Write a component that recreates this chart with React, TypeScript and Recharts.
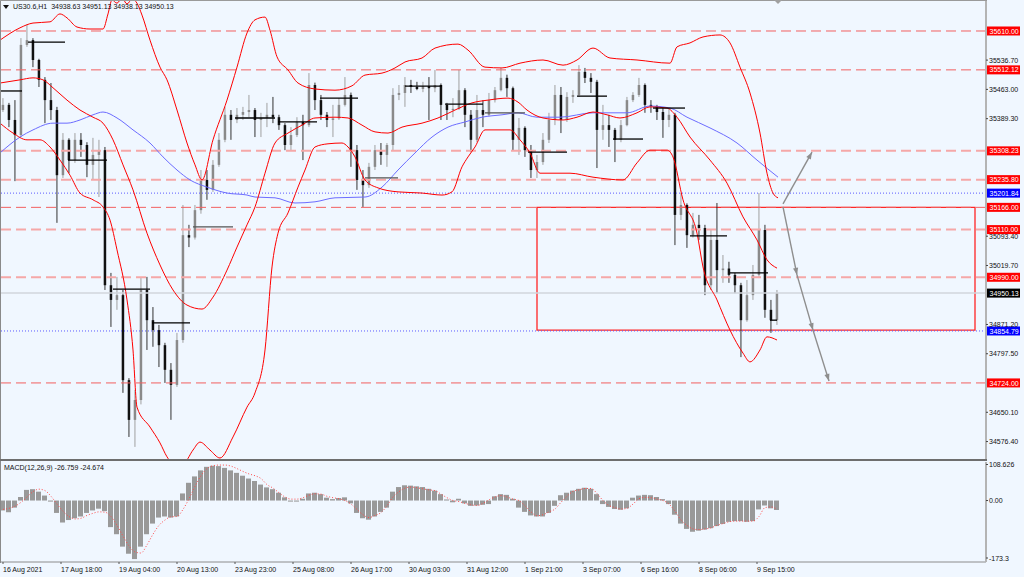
import React from 'react'
import { ComposedChart, Bar, Line, XAxis, YAxis, ReferenceLine, ReferenceArea } from 'recharts'

const FONT = '"Liberation Sans", Arial, sans-serif'
const BG = '#f0f7ff'

// US30.6 H1 - one candle per 3 hourly bars, t = hourly bar number
const firstOpen = 35411
const highs = [
  35441, 35429, 35436, 35592, 35627, 35592, 35540, 35494, 35479, 35419,
  35353, 35340, 35353, 35353, 35330, 35341, 35336, 35318, 35001, 34991,
  34958, 34736, 34706, 34988, 34991, 34915, 34870, 34825, 34774, 34850,
  35172, 35122, 35172, 35260, 35260, 35285, 35353, 35419, 35411, 35416,
  35419, 35449, 35416, 35404, 35429, 35444, 35399, 35378, 35368, 35393,
  35399, 35504, 35480, 35449, 35406, 35424, 35441, 35494, 35455, 35323,
  35260, 35278, 35323, 35328, 35328, 35466, 35474, 35494, 35487, 35482,
  35482, 35494, 35512, 35478, 35429, 35441, 35512, 35466, 35411, 35449,
  35436, 35454, 35469, 35517, 35500, 35470, 35391, 35370, 35323, 35298,
  35353, 35404, 35474, 35469, 35456, 35461, 35524, 35517, 35504, 35487,
  35424, 35399, 35366, 35386, 35444, 35456, 35492, 35478, 35436, 35424,
  35416, 35416, 35404, 35202, 35176, 35152, 35147, 35122, 35109, 35177,
  35046, 35029, 35001, 34976, 34983, 35021, 35202, 35122, 34933, 34958,
]
const lows = [
  35406, 35368, 35232, 35343, 35570, 35519, 35469, 35378, 35386, 35127,
  35240, 35252, 35278, 35293, 35242, 35235, 35192, 34958, 34865, 34908,
  34699, 34588, 34563, 34670, 34807, 34815, 34764, 34724, 34631, 34714,
  34825, 35066, 35085, 35150, 35185, 35205, 35268, 35330, 35336, 35378,
  35386, 35393, 35343, 35343, 35368, 35378, 35361, 35310, 35310, 35343,
  35285, 35368, 35411, 35386, 35368, 35343, 35386, 35420, 35268, 35210,
  35167, 35215, 35260, 35273, 35268, 35310, 35436, 35419, 35454, 35461,
  35456, 35386, 35456, 35386, 35386, 35393, 35411, 35368, 35305, 35330,
  35368, 35395, 35430, 35458, 35444, 35310, 35298, 35293, 35240, 35240,
  35273, 35328, 35373, 35353, 35381, 35429, 35444, 35479, 35454, 35265,
  35336, 35318, 35280, 35330, 35370, 35431, 35444, 35404, 35404, 35386,
  35341, 35368, 35071, 35134, 35064, 35090, 35084, 34945, 34958, 34950,
  34976, 34976, 34950, 34789, 34878, 34933, 34988, 34888, 34850, 34870,
]
const closes = [
  35424, 35386, 35348, 35575, 35587, 35537, 35487, 35436, 35411, 35247,
  35336, 35285, 35336, 35323, 35273, 35298, 35310, 34970, 34933, 34945,
  34731, 34631, 34681, 34958, 34882, 34857, 34819, 34757, 34719, 34832,
  35096, 35090, 35159, 35235, 35210, 35273, 35336, 35399, 35386, 35399,
  35406, 35411, 35386, 35391, 35399, 35393, 35373, 35323, 35348, 35381,
  35373, 35474, 35436, 35399, 35386, 35390, 35424, 35449, 35310, 35235,
  35222, 35268, 35310, 35298, 35323, 35449, 35454, 35474, 35469, 35464,
  35471, 35466, 35474, 35424, 35411, 35414, 35461, 35399, 35336, 35411,
  35399, 35436, 35461, 35492, 35466, 35336, 35366, 35310, 35260, 35280,
  35336, 35386, 35449, 35386, 35444, 35449, 35507, 35492, 35482, 35361,
  35373, 35361, 35336, 35373, 35436, 35449, 35474, 35424, 35421, 35406,
  35386, 35399, 35147, 35172, 35096, 35122, 35114, 34970, 35084, 35008,
  35012, 34996, 34970, 34882, 34945, 34996, 35109, 34908, 34882, 34950.13,
]

const macdHist = [
  -28, -33, -20, 10, 30, 32, 25, 14, -3, -35,
  -62, -55, -50, -45, -35, -28, -23, -30, -75, -95,
  -130, -150, -165, -130, -95, -65, -48, -45, -48, -45,
  20, 50, 68, 85, 95, 98, 97, 92, 85, 78,
  70, 62, 55, 45, 37, 32, 22, 9, -3, -3,
  5, 20, 22, 18, 8, 4, 7, 9, -8, -35,
  -50, -54, -45, -32, -20, 25, 38, 43, 42, 40,
  38, 33, 28, 18, 3, -5, 5, -8, -15, -14,
  -12, -10, 12, 18, 16, 5, -20, -32, -42, -45,
  -45, -35, -15, 15, 22, 28, 33, 36, 33, 18,
  -10, -18, -24, -26, -22, 8, 14, 16, 15, 10,
  4, -10, -40, -65, -80, -88, -85, -82, -78, -72,
  -66, -60, -58, -58, -60, -58, -25, -14, -22, -26.759,
]
const macdSignal = [
  -25, -22, -16, -5, 10, 25, 32, 28, 12, -10,
  -30, -45, -52, -50, -42, -36, -32, -33, -45, -70,
  -100, -128, -145, -148, -125, -95, -70, -55, -46, -45,
  -25, 5, 40, 70, 90, 98, 100, 100, 97, 90,
  82, 75, 70, 62, 45, 35, 22, 10, 4, 4,
  8, 15, 19, 18, 12, 8, 5, 0, -10, -25,
  -40, -48, -42, -34, -15, 10, 25, 35, 38, 36,
  33, 30, 28, 18, 8, 0, -3, -8, -12, -14,
  -8, 2, 10, 14, 10, 4, 0, -15, -32, -43,
  -40, -32, -24, -5, 12, 26, 30, 34, 34, 20,
  0, -14, -20, -24, -22, -10, 5, 9, 8, 4,
  0, -10, -30, -55, -70, -80, -82, -80, -77, -70,
  -65, -60, -58, -58, -58, -58, -45, -20, -18, -24.674,
]

const timeTicks = [0, 29, 58, 87, 116, 145, 174, 203, 232, 261, 290, 319, 348, 377]
const timeLabels = [
  '16 Aug 2021', '17 Aug 18:00', '19 Aug 04:00', '20 Aug 13:00', '23 Aug 23:00',
  '25 Aug 08:00', '26 Aug 17:00', '30 Aug 03:00', '31 Aug 12:00', '1 Sep 21:00',
  '3 Sep 07:00', '6 Sep 16:00', '8 Sep 06:00', '9 Sep 15:00',
]
const priceTicks = [35536.7, 35463.0, 35389.3, 35093.4, 35019.7, 34871.2, 34797.5, 34650.1, 34576.4]
const macdTicks = [108.626, 0, -173.3]

// bollinger bands (20) and MA, [t, price]
const bandUpper: [number, number][] = [
  [-1.5, 35587], [8.5, 35618], [15, 35630], [23.5, 35633], [28.5, 35653], [32, 35643],
  [37, 35620], [43.5, 35615], [50, 35615], [52.5, 35653], [54.5, 35688], [57, 35680],
  [59.5, 35693], [62, 35678], [64.5, 35690], [67, 35680], [69.5, 35650], [73.5, 35587],
  [78.5, 35519], [82, 35487], [87, 35411], [92, 35328], [96, 35273], [99.5, 35235],
  [105, 35336], [112, 35436], [117, 35519], [122, 35605], [126, 35638], [131, 35645],
  [133.5, 35612], [137, 35545], [142.5, 35512], [147.5, 35479], [156, 35464], [166, 35461],
  [174.5, 35472], [181, 35499], [189.5, 35504], [196, 35517], [201, 35532], [209.5, 35542],
  [216, 35567], [227.5, 35577], [232.5, 35562], [241, 35519], [249.5, 35517], [258.5, 35529],
  [270, 35537], [280, 35524], [287, 35537], [295, 35567], [303.5, 35542], [317, 35537],
  [333.5, 35529], [337, 35570], [343.5, 35580], [350, 35595], [358.5, 35600], [363.5, 35580],
  [368.5, 35519], [373.5, 35454], [378.5, 35353], [382, 35252], [385, 35202], [387.5, 35190],
]
const bandMiddle: [number, number][] = [
  [-1.5, 35479], [8.5, 35487], [15, 35492], [20, 35487], [25, 35467], [32, 35436],
  [38.5, 35411], [45, 35393], [50, 35378], [55, 35336], [60, 35273], [65, 35210],
  [72, 35101], [78.5, 35021], [85, 34958], [92, 34920], [99.5, 34910], [105, 34940],
  [112, 35008], [117, 35066], [122, 35122], [126, 35167], [131, 35252], [136, 35328],
  [142.5, 35353], [149.5, 35373], [156, 35391], [166, 35393], [172.5, 35391], [179.5, 35373],
  [186, 35356], [192.5, 35353], [199.5, 35368], [209.5, 35378], [217.5, 35391], [226, 35411],
  [234.5, 35429], [242.5, 35436], [252.5, 35441], [257.5, 35431], [262, 35411], [270, 35391],
  [280, 35386], [287, 35393], [295, 35406], [302, 35399], [308.5, 35391], [317, 35404],
  [323.5, 35419], [332, 35416], [337, 35393], [343.5, 35343], [353.5, 35285], [362, 35227],
  [370, 35142], [377, 35084], [382, 35034], [387, 35013],
]
const bandLower: [number, number][] = [
  [-1.5, 35378], [5, 35353], [12, 35336], [18.5, 35336], [23.5, 35318], [28.5, 35285],
  [33.5, 35247], [38.5, 35202], [45, 35185], [50, 35167], [53.5, 35134], [57, 35059],
  [62, 34933], [65, 34807], [67, 34663], [73.5, 34613], [78.5, 34573], [82, 34538],
  [86, 34517], [91, 34525], [95, 34555], [98.5, 34575], [103.5, 34555], [108.5, 34535],
  [115, 34588], [122, 34663], [126, 34699], [131, 34807], [134.5, 35016], [137.5, 35101],
  [142.5, 35152], [147.5, 35217], [151, 35260], [156, 35318], [162.5, 35326], [169.5, 35328],
  [172.5, 35318], [176, 35293], [181, 35235], [187.5, 35215], [197.5, 35205], [209.5, 35202],
  [219.5, 35197], [224.5, 35205], [229.5, 35268], [232.5, 35293], [236, 35318], [241, 35361],
  [247.5, 35361], [253.5, 35361], [258.5, 35336], [263.5, 35303], [268.5, 35252], [283.5, 35252],
  [295, 35242], [310, 35235], [317, 35278], [323.5, 35310], [332, 35310], [335, 35293],
  [340, 35185], [347, 35101], [350, 35016], [357, 34933], [363.5, 34857], [370, 34799],
  [373.5, 34777], [378.5, 34807], [382, 34840], [387, 34832],
]
const maLine: [number, number][] = [
  [-1.5, 35303], [8.5, 35343], [15, 35361], [25, 35378], [32, 35378], [38.5, 35386],
  [45, 35399], [50, 35406], [57, 35391], [65, 35361], [73.5, 35328], [80, 35293],
  [87, 35260], [93.5, 35235], [102, 35217], [112, 35202], [122, 35197], [126, 35192],
  [136, 35190], [146, 35177], [156, 35180], [166, 35190], [181, 35192], [189.5, 35217],
  [197.5, 35260], [206, 35303], [214.5, 35343], [222.5, 35368], [231, 35381], [239.5, 35393],
  [249.5, 35399], [257.5, 35404], [267, 35393], [278.5, 35393], [295, 35404], [312, 35404],
  [323.5, 35421], [333.5, 35416], [342, 35393], [353.5, 35366], [367, 35328], [377, 35285],
  [387.5, 35242],
]

// horizontal levels
const redLevels = [35610, 35512.12, 35166, 34724]
const pinkLevels = [35308.23, 35235.8, 35110, 34990]
const blueLevels = [35201.84, 34854.79]
const lastPrice = 34950.13

// daily level segments [t1, t2, price, grey]
const dailyLevels: [number, number, number, boolean][] = [
  [-1.5, 9.5, 35459, false], [12.5, 31, 35582, false], [32.5, 52, 35285, false],
  [55, 73.5, 34960, false], [74.5, 93.5, 34875, false], [95, 115, 35117, true],
  [116, 136, 35391, false], [137.5, 157, 35381, false], [158.5, 177.5, 35441, false],
  [181, 197.5, 35240, true], [201, 219.5, 35471, false], [221, 240, 35426, false],
  [241, 261, 35404, true], [262.5, 282, 35305, false], [287, 302, 35446, false],
  [305, 320, 35338, false], [325, 341, 35416, false], [343.5, 362, 35094, false],
  [363.5, 382.5, 35001, false], [383.5, 387, 34882, false],
]

// projection arrows [t1, p1, t2, p2]
const arrows: [number, number, number, number][] = [
  [390, 35175, 404.5, 35305],
  [390, 35167, 397, 34996],
  [397, 34996, 405, 34857],
  [405, 34857, 413, 34729],
]
const zone = { t1: 267, t2: 486, top: 35166, bottom: 34857 }

const rows = closes.map((c, i) => ({
  t: i * 3,
  o: i === 0 ? firstOpen : closes[i - 1],
  h: highs[i],
  l: lows[i],
  c,
  macd: macdHist[i],
  signal: macdSignal[i],
}))

const pts = (arr: [number, number][]) => arr.map(([t, v]) => ({ t, v }))

function Candle(props: any) {
  const { x, y, width, height, payload } = props
  if (!payload || !isFinite(y) || !isFinite(height)) return null
  const { o, h, l, c } = payload
  const top = Math.min(y, y + height)
  const hh = Math.abs(height)
  const span = h - l || 1
  const at = (v: number) => top + ((h - v) / span) * hh
  const cx = x + width / 2
  const up = c >= o
  const b1 = at(Math.max(o, c))
  const b2 = at(Math.min(o, c))
  return (
    <g>
      <line x1={cx} x2={cx} y1={top} y2={top + hh} stroke={up ? '#a0a0a0' : '#333'} strokeWidth={1} />
      <rect x={cx - 1.25} y={b1} width={2.5} height={Math.max(1, b2 - b1)} fill={up ? '#8a8a8a' : '#111'} />
    </g>
  )
}

const badge = (text: string, bg: string) => (props: any) => {
  const vb = props.viewBox
  if (!vb) return null
  const x = vb.x + vb.width + 1
  return (
    <g>
      <rect x={x} y={vb.y - 4.5} width={33} height={9} fill={bg} />
      <text x={x + 2.5} y={vb.y + 2.6} fontSize={7} fill="#fff" fontFamily={FONT}>{text}</text>
    </g>
  )
}

function arrowShape(p: any) {
  const { x1, y1, x2, y2 } = p
  const a = Math.atan2(y2 - y1, x2 - x1)
  const bx = x2 - 7 * Math.cos(a)
  const by = y2 - 7 * Math.sin(a)
  const nx = -Math.sin(a) * 2.6
  const ny = Math.cos(a) * 2.6
  return (
    <g>
      <line x1={x1} y1={y1} x2={x2} y2={y2} stroke="#8e8e8e" strokeWidth={1.4} />
      <polygon points={`${x2},${y2} ${bx + nx},${by + ny} ${bx - nx},${by - ny}`} fill="#8e8e8e" />
    </g>
  )
}

function PriceTick(props: any) {
  const { x, y, payload } = props
  return (
    <g>
      <line x1={x - 3} x2={x - 1} y1={y} y2={y} stroke="#444" />
      <text x={x} y={y + 2.5} fontSize={7} fill="#111" fontFamily={FONT}>{Number(payload.value).toFixed(2)}</text>
    </g>
  )
}

function MacdTick(props: any) {
  const { x, y, payload } = props
  const v = payload.value
  const label = v === 0 ? '0.00' : String(v)
  const dy = v > 0 ? 5 : v < 0 ? -1.5 : 2.5
  return (
    <g>
      <line x1={x - 3} x2={x - 1} y1={y + dy - 2.5} y2={y + dy - 2.5} stroke="#444" />
      <text x={x} y={y + dy} fontSize={7} fill="#111" fontFamily={FONT}>{label}</text>
    </g>
  )
}

function TimeTick(props: any) {
  const { x, y, payload } = props
  const i = timeTicks.indexOf(payload.value)
  return (
    <text x={x} y={y + 6} fontSize={7} fill="#111" fontFamily={FONT} textAnchor="start">{timeLabels[i]}</text>
  )
}

export default function App() {
  return (
    <div style={{ position: 'absolute', left: 0, top: 0, width: 1024, height: 577, background: BG, overflow: 'hidden', fontFamily: FONT }}>
      <div style={{ position: 'absolute', left: 0, top: 0 }}>
        <ComposedChart width={1024} height={460} data={rows} margin={{ top: 1, right: 0, bottom: 1, left: 0 }}>
          <XAxis dataKey="t" type="number" domain={[-1.5, 491.5]} allowDataOverflow hide />
          <YAxis
            orientation="right"
            width={38}
            type="number"
            domain={[34532.5, 35685.5]}
            allowDataOverflow
            ticks={priceTicks}
            interval={0}
            tickSize={2}
            tickMargin={1}
            tickLine={false}
            tick={<PriceTick />}
            axisLine={{ stroke: '#b4b4b4', strokeWidth: 2 }}
          />
          {redLevels.map((p) => (
            <ReferenceLine key={'r' + p} y={p} stroke="#f26060" strokeWidth={1} strokeDasharray="10 5" label={badge(p.toFixed(2), '#ff0000')} />
          ))}
          {pinkLevels.map((p) => (
            <ReferenceLine key={'p' + p} y={p} stroke="#f5a8a8" strokeWidth={2} strokeDasharray="10 5" label={badge(p.toFixed(2), '#ff0000')} />
          ))}
          {blueLevels.map((p) => (
            <ReferenceLine key={'b' + p} y={p} stroke="#5a5aff" strokeWidth={1} strokeDasharray="1 2" label={badge(p.toFixed(2), '#0000ff')} />
          ))}
          <ReferenceLine y={lastPrice} stroke="#d2d6dc" strokeWidth={1.5} label={badge(lastPrice.toFixed(2), '#000')} />
          <Line data={pts(maLine)} dataKey="v" type="monotone" stroke="#6c6cff" strokeWidth={1} dot={false} isAnimationActive={false} />
          <Line data={pts(bandUpper)} dataKey="v" type="monotone" stroke="#ff0000" strokeWidth={1} dot={false} isAnimationActive={false} />
          <Line data={pts(bandMiddle)} dataKey="v" type="monotone" stroke="#ff0000" strokeWidth={1} dot={false} isAnimationActive={false} />
          <Line data={pts(bandLower)} dataKey="v" type="monotone" stroke="#ff0000" strokeWidth={1} dot={false} isAnimationActive={false} />
          <Bar dataKey={(d: any) => [d.l, d.h]} barSize={4} shape={(p: any) => <Candle {...p} />} isAnimationActive={false} />
          {dailyLevels.map(([t1, t2, p, grey], i) => (
            <ReferenceLine key={'d' + i} segment={[{ x: t1, y: p }, { x: t2, y: p }]} stroke={grey ? '#555' : '#000'} strokeWidth={1.3} />
          ))}
          <ReferenceArea x1={zone.t1} x2={zone.t2} y1={zone.bottom} y2={zone.top} fill="none" fillOpacity={0} stroke="#ff2626" strokeWidth={1.3} ifOverflow="visible" />
          {arrows.map(([t1, p1, t2, p2], i) => (
            <ReferenceLine key={'a' + i} segment={[{ x: t1, y: p1 }, { x: t2, y: p2 }]} shape={arrowShape} ifOverflow="visible" />
          ))}
        </ComposedChart>
      </div>
      <div style={{ position: 'absolute', left: 0, top: 460 }}>
        <ComposedChart width={1024} height={117} data={rows} margin={{ top: 2, right: 0, bottom: 0, left: 0 }}>
          <XAxis
            dataKey="t"
            type="number"
            domain={[-1.5, 491.5]}
            allowDataOverflow
            ticks={timeTicks}
            interval={0}
            height={15}
            tickSize={2}
            tickMargin={2}
            tick={<TimeTick />}
            tickLine={{ stroke: '#555' }}
            axisLine={{ stroke: '#8c8c8c' }}
          />
          <YAxis
            orientation="right"
            width={38}
            type="number"
            domain={[-173.3, 108.626]}
            allowDataOverflow
            ticks={macdTicks}
            interval={0}
            tickSize={2}
            tickMargin={1}
            tickLine={false}
            tick={<MacdTick />}
            axisLine={{ stroke: '#b4b4b4', strokeWidth: 2 }}
          />
          <Bar dataKey="macd" barSize={5} fill="#999999" isAnimationActive={false} />
          <Line dataKey="signal" type="monotone" stroke="#ff4a4a" strokeWidth={1} strokeDasharray="1 2" dot={false} isAnimationActive={false} />
        </ComposedChart>
      </div>
      {/* pane borders */}
      <div style={{ position: 'absolute', left: 0, top: 0, width: 1, height: 563, background: '#8a8a8a' }} />
      <div style={{ position: 'absolute', left: 0, top: 0, width: 987, height: 1, background: '#9a9a9a' }} />
      <div style={{ position: 'absolute', left: 0, top: 459, width: 987, height: 2, background: '#6e6e6e' }} />
      {/* title */}
      <div style={{ position: 'absolute', left: 3, top: 2, fontSize: 7, lineHeight: '9px', color: '#111', whiteSpace: 'pre', display: 'flex', alignItems: 'center' }}>
        <svg width={7} height={6} style={{ marginRight: 3 }}><polygon points="0,1 6,1 3,5" fill="#111" /></svg>
        <span>US30.6,H1  34938.63 34951.13 34938.13 34950.13</span>
      </div>
      <div style={{ position: 'absolute', left: 4, top: 463, fontSize: 7, lineHeight: '9px', color: '#111', whiteSpace: 'pre' }}>
        MACD(12,26,9) -26.759 -24.674
      </div>
      <svg style={{ position: 'absolute', left: 774, top: 0 }} width={9} height={6}>
        <polygon points="0,0 8,0 4,4" fill="#a0a0a0" />
      </svg>
    </div>
  )
}
